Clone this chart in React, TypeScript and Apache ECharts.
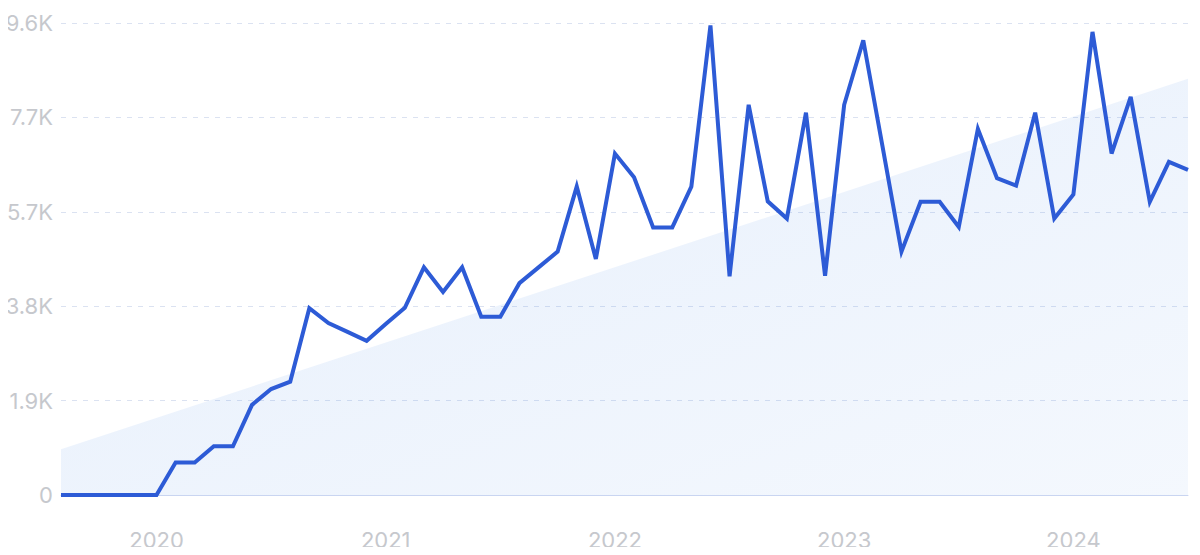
import React, { useEffect, useRef } from "react";
import * as echarts from "echarts";

// Monthly points, Aug 2019 .. Jul 2024
const months: string[] = [];
for (let y = 2019; y <= 2024; y++) {
  for (let m = 1; m <= 12; m++) {
    if ((y === 2019 && m < 8) || (y === 2024 && m > 7)) continue;
    months.push(`${y}-${String(m).padStart(2, "0")}`);
  }
}

const searchVolume = [
  0, 0, 0, 0, 0, 0, 660, 660, 990, 990,
  1830, 2150, 2300, 3790, 3490, 3310, 3130, 3470, 3800, 4620,
  4120, 4620, 3620, 3620, 4300, 4620, 4940, 6260, 4790, 6930,
  6450, 5430, 5430, 6260, 9530, 4440, 7920, 5960, 5610, 7760,
  4450, 7920, 9230, 7090, 4940, 5950, 5950, 5440, 7430, 6430,
  6280, 7760, 5610, 6100, 9400, 6930, 8080, 5950, 6760, 6600,
];

// Trend line endpoints (first and last month)
const trendStart = 928;
const trendEnd = 8446;

const yMax = 9580;
const yInterval = 1916;

export default function App() {
  const ref = useRef<HTMLDivElement>(null);

  useEffect(() => {
    if (!ref.current) return;
    const chart = echarts.init(ref.current, null, { renderer: "svg" });
    const last = months.length - 1;
    chart.setOption({
      animation: false,
      grid: { left: 61, right: 12, top: 23, bottom: 60 },
      xAxis: [
        {
          type: "category",
          data: months,
          boundaryGap: false,
          axisLine: { show: true, lineStyle: { color: "#c9d5f1", width: 1 } },
          axisTick: { show: false },
          splitLine: { show: false },
          axisLabel: {
            interval: (i: number, v: string) => v.endsWith("-01"),
            formatter: (v: string) => v.slice(0, 4),
            color: "#c6c8cd",
            fontSize: 22,
            fontFamily: "Inter, 'Noto Sans', sans-serif",
            margin: 34,
          },
        },
        {
          type: "value",
          min: 0,
          max: last,
          show: false,
        },
      ],
      yAxis: {
        type: "value",
        min: 0,
        max: yMax,
        interval: yInterval,
        axisLine: { show: false },
        axisTick: { show: false },
        splitLine: {
          show: true,
          lineStyle: { color: "#dbe2f1", type: [5, 6], width: 1 },
        },
        axisLabel: {
          formatter: (v: number) => (v === 0 ? "0" : (v / 1000).toFixed(1) + "K"),
          color: "#c6c8cd",
          fontSize: 22,
          fontFamily: "Inter, 'Noto Sans', sans-serif",
          margin: 8,
        },
      },
      series: [
        {
          type: "line",
          xAxisIndex: 1,
          data: [
            [0, trendStart],
            [last, trendEnd],
          ],
          symbol: "none",
          lineStyle: { width: 0, opacity: 0 },
          areaStyle: {
            color: new echarts.graphic.LinearGradient(0, 0, 1, 1, [
              { offset: 0, color: "rgba(60,130,230,0.18)" },
              { offset: 1, color: "rgba(60,130,230,0.08)" },
            ]),
          },
          silent: true,
          z: 1,
        },
        {
          type: "line",
          data: searchVolume,
          symbol: "none",
          lineStyle: { color: "#2d5bd6", width: 4, join: "miter" },
          z: 3,
        },
      ],
    });
    return () => chart.dispose();
  }, []);

  return <div ref={ref} style={{ width: 1200, height: 555, margin: -8 }} />;
}
